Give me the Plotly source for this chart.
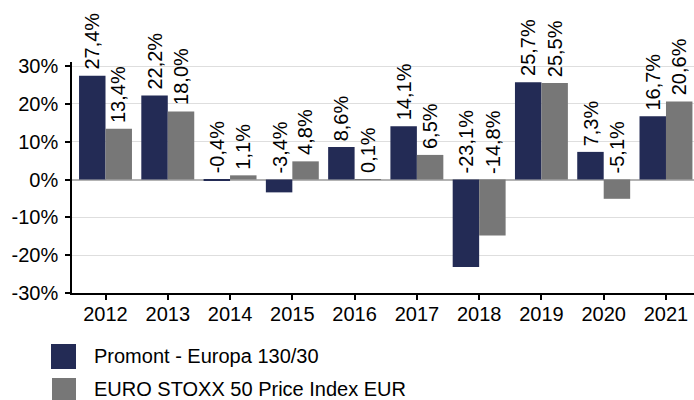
import plotly.graph_objects as go

years = ["2012", "2013", "2014", "2015", "2016", "2017", "2018", "2019", "2020", "2021"]
promont = [27.4, 22.2, -0.4, -3.4, 8.6, 14.1, -23.1, 25.7, 7.3, 16.7]
stoxx = [13.4, 18.0, 1.1, 4.8, 0.1, 6.5, -14.8, 25.5, -5.1, 20.6]
series_names = ["Promont - Europa 130/30", "EURO STOXX 50 Price Index EUR"]
colors = ["#232B55", "#777777"]
ytick_vals = [-30, -20, -10, 0, 10, 20, 30]
ytick_text = [f"{v}%" for v in ytick_vals]

FONT = "Arial, Liberation Sans, sans-serif"

def fmt(v):
    return f"{v:.1f}%".replace(".", ",")

fig = go.Figure()
for name, vals, col in zip(series_names, [promont, stoxx], colors):
    fig.add_trace(go.Bar(x=years, y=vals, name=name, marker=dict(color=col, line=dict(width=0)),
                         showlegend=False))

annotations = []
offsets = [-0.2125, 0.2125]
for vals, off in zip([promont, stoxx], offsets):
    for i, v in enumerate(vals):
        annotations.append(dict(x=i + off, y=max(v, 0), xref="x", yref="y", text=fmt(v),
                                textangle=-90, showarrow=False, xanchor="center", yanchor="bottom",
                                yshift=4, font=dict(family=FONT, size=20, color="black")))

# manual legend (pixel -> paper conversion)
L, T, B, R = 72, 62, 293, 694
W, H = R - L, B - T
def px(x):
    return (x - L) / W
def py(y):
    return (B - y) / H

shapes = []
leg = [(51, 344, 369, 356), (52, 378, 403, 389)]
for (x0, y0, y1, yc), name, col in zip(leg, series_names, colors):
    shapes.append(dict(type="rect", xref="paper", yref="paper", x0=px(x0), x1=px(76),
                       y0=py(y1), y1=py(y0), fillcolor=col, line=dict(width=0)))
    annotations.append(dict(x=px(92), y=py(yc), xref="paper", yref="paper", text=name,
                            showarrow=False, xanchor="left", yanchor="middle",
                            font=dict(family=FONT, size=20, color="black")))

fig.update_layout(
    width=694, height=400,
    margin=dict(l=L, r=694 - R, t=T, b=400 - B),
    paper_bgcolor="white", plot_bgcolor="white",
    barmode="group", bargap=0.15, bargroupgap=0,
    annotations=annotations, shapes=shapes,
    font=dict(family=FONT, size=20, color="black"),
    xaxis=dict(type="category", range=[-0.538, 9.45], showline=True, linecolor="black", linewidth=1.5,
               ticks="outside", ticklen=5, tickcolor="black", tickwidth=1.5, showgrid=False,
               ticklabelstandoff=-3, tickfont=dict(family=FONT, size=20, color="black")),
    yaxis=dict(range=[-30, 31.06], tickvals=ytick_vals, ticktext=ytick_text, showline=True,
               linecolor="black", linewidth=1.5, ticks="outside", ticklen=5, tickcolor="black",
               tickwidth=1.5, showgrid=True, gridcolor="#dedede", gridwidth=1,
               zeroline=True, zerolinecolor="#b3b3b3", zerolinewidth=1.5,
               ticklabelstandoff=3, tickfont=dict(family=FONT, size=20, color="black")),
)

fig.write_html("out.html", config={"displayModeBar": False},
               post_script="document.body.style.margin='0';document.body.style.padding='0';")
